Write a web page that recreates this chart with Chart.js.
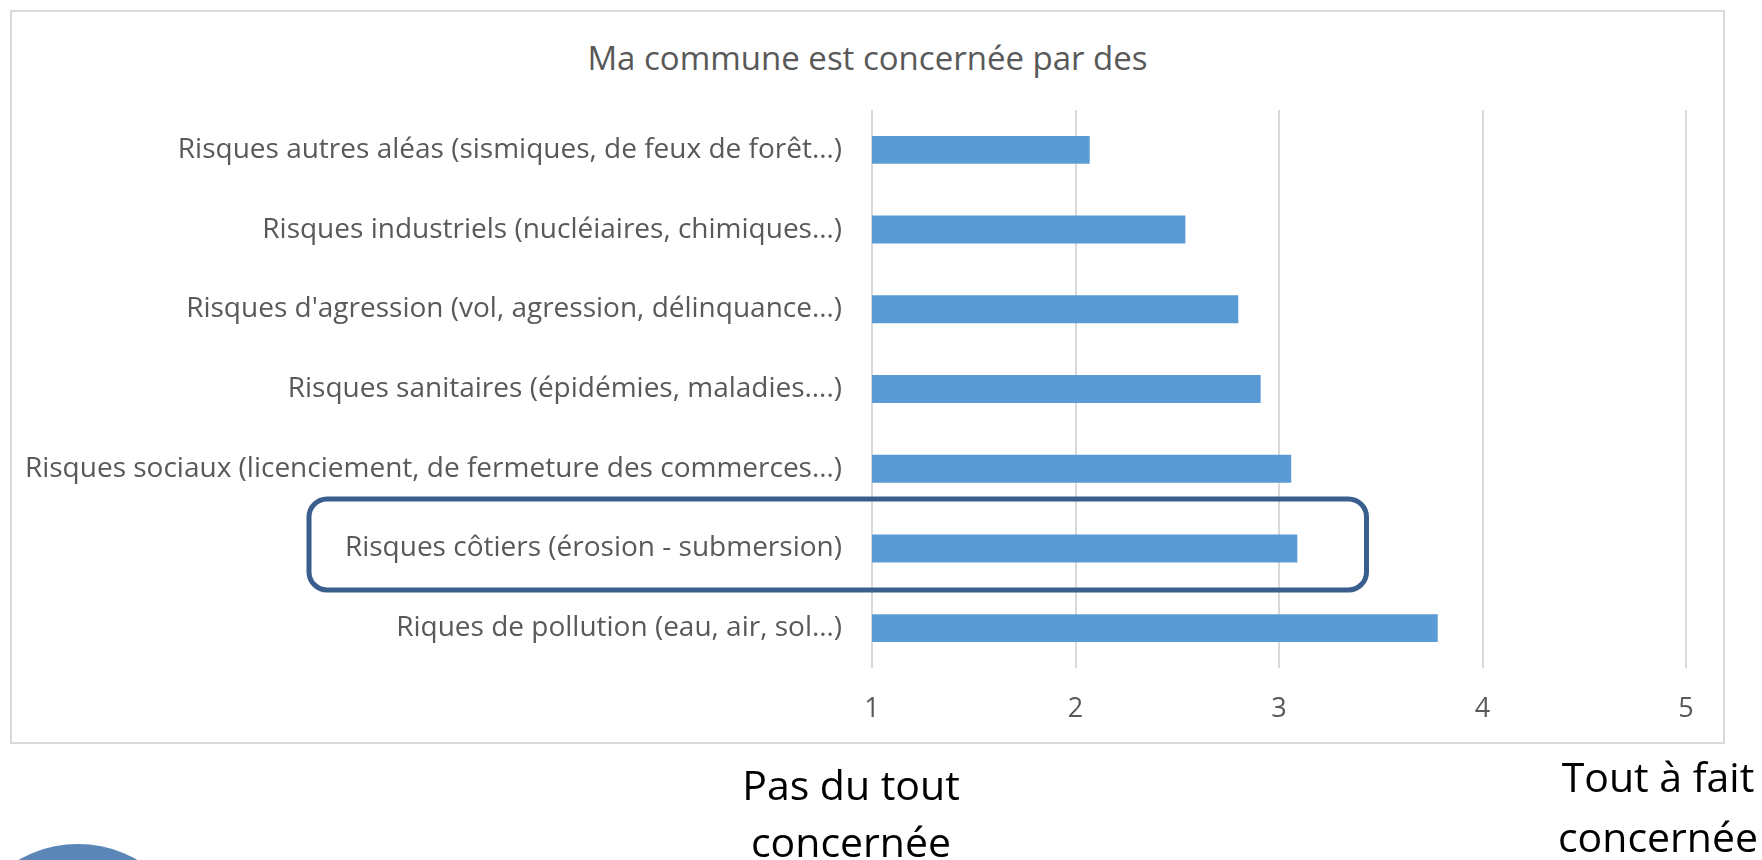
<!DOCTYPE html>
<html>
<head>
<meta charset="utf-8">
<script src="https://cdn.jsdelivr.net/npm/chart.js@4/dist/chart.umd.min.js"></script>
<style>
  html, body { margin: 0; padding: 0; background: #fff; }
  body { width: 1762px; height: 860px; position: relative; overflow: hidden; font-family: "Open Sans", sans-serif; }
  #frame { position: absolute; left: 10px; top: 10px; width: 1715px; height: 734px; box-sizing: border-box; border: 2px solid #d9d9d9; }
  #title { position: absolute; left: 10px; width: 1715px; top: 38px; font-size: 33px; line-height: 40px; color: #595959; text-align: center; white-space: nowrap; }
  #wrap { position: absolute; left: 0; top: 0; width: 1762px; height: 860px; }
  .note { position: absolute; font-size: 41px; color: #000; text-align: center; white-space: nowrap; width: 320px; }
  #noteLeft { left: 691px; top: 756px; line-height: 57px; }
  #noteRight { left: 1498px; top: 746px; line-height: 60px; }
  #dot { position: absolute; left: -42px; top: 844px; width: 240px; height: 240px; border-radius: 50%; background: #5b86b8; }
</style>
</head>
<body>
<div id="frame"></div>
<div id="title"></div>
<div id="wrap"><canvas id="riskChart"></canvas></div>
<div class="note" id="noteLeft">Pas du tout<br>concernée</div>
<div class="note" id="noteRight">Tout à fait<br>concernée</div>
<div id="dot"></div>
<script>
const chartTitle = "Ma commune est concernée par des";

const categories = [
  "Risques autres aléas (sismiques, de feux de forêt…)",
  "Risques industriels (nucléiaires, chimiques…)",
  "Risques d'agression (vol, agression, délinquance…)",
  "Risques sanitaires (épidémies, maladies….)",
  "Risques sociaux (licenciement, de fermeture des commerces…)",
  "Risques côtiers (érosion - submersion)",
  "Riques de pollution (eau, air, sol…)"
];

const meanScores = [2.07, 2.54, 2.80, 2.91, 3.06, 3.09, 3.78];

const scaleMin = 1;
const scaleMax = 5;

// row that is circled on the slide
const highlightRow = 5;
const highlightUntil = 3.43;

const grey = "#595959";

// rounded frame around the circled row
const highlightBox = {
  id: "highlightBox",
  afterDatasetsDraw(chart) {
    const ctx = chart.ctx;
    const x = chart.scales.x;
    const y = chart.scales.y;
    const band = (y.bottom - y.top) / categories.length;
    const mid = y.getPixelForValue(highlightRow);
    const left = 309;
    const right = x.getPixelForValue(highlightUntil);
    const top = mid - band * 0.62;
    const bottom = mid + band * 0.52;
    ctx.save();
    ctx.strokeStyle = "#3a5f8e";
    ctx.lineWidth = 5;
    ctx.beginPath();
    ctx.roundRect(left, top, right - left, bottom - top, 18);
    ctx.stroke();
    ctx.restore();
  }
};

document.addEventListener("DOMContentLoaded", function () {
  document.getElementById("title").textContent = chartTitle;

  new Chart(document.getElementById("riskChart"), {
    type: "bar",
    data: {
      labels: categories,
      datasets: [
        {
          label: chartTitle,
          data: meanScores,
          backgroundColor: "#5b9bd5",
          borderWidth: 0,
          barPercentage: 0.35,
          categoryPercentage: 1
        }
      ]
    },
    options: {
      indexAxis: "y",
      responsive: true,
      maintainAspectRatio: false,
      animation: false,
      layout: { padding: { left: 0, right: 76, top: 110, bottom: 132 } },
      plugins: {
        legend: { display: false },
        tooltip: { enabled: false },
        title: { display: false }
      },
      scales: {
        x: {
          min: scaleMin,
          max: scaleMax,
          afterFit: function (scale) { scale.height = 60; },
          grid: { color: "#d9d9d9", lineWidth: 2, drawTicks: false },
          border: { display: false },
          ticks: {
            stepSize: 1,
            padding: 25,
            color: grey,
            font: { family: "Open Sans", size: 27 }
          }
        },
        y: {
          afterFit: function (scale) { scale.width = 872; },
          grid: { display: false, drawTicks: false },
          border: { display: false },
          ticks: {
            padding: 30,
            color: grey,
            font: { family: "Open Sans", size: 28 }
          }
        }
      }
    },
    plugins: [highlightBox]
  });
});
</script>
</body>
</html>
